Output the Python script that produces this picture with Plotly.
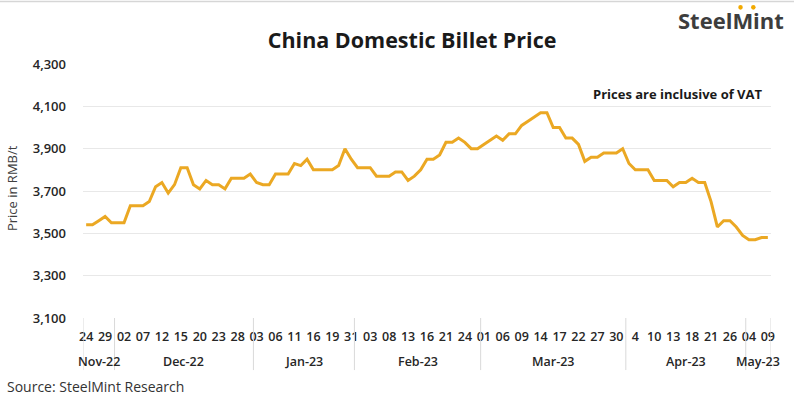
import plotly.graph_objects as go

# ---------------- data ----------------
months = ["Nov-22", "Dec-22", "Jan-23", "Feb-23", "Mar-23", "Apr-23", "May-23"]
month_days = [
    ["24", "25", "28", "29", "30"],
    ["01", "02", "05", "06", "07", "08", "09", "12", "13", "14", "15", "16", "19", "20",
     "21", "22", "23", "26", "27", "28", "29", "30"],
    ["03", "04", "05", "06", "09", "10", "11", "12", "13", "16", "17", "18", "19", "20", "30", "31"],
    ["01", "02", "03", "06", "07", "08", "09", "10", "13", "14", "15", "16", "17", "20",
     "21", "22", "23", "24", "27", "28"],
    ["01", "02", "03", "06", "07", "08", "09", "10", "13", "14", "15", "16", "17", "20",
     "21", "22", "23", "24", "27", "28", "29", "30", "31"],
    ["3", "4", "6", "7", "10", "11", "12", "13", "14", "17", "18", "19", "20", "21",
     "24", "25", "26", "27", "28"],
    ["04", "05", "08", "09"],
]
prices = [
    3540, 3540, 3560, 3580, 3550,                      # Nov
    3550, 3550, 3630, 3630, 3630, 3650, 3720, 3740, 3690, 3730, 3810,
    3810, 3730, 3710, 3750, 3730, 3730, 3710, 3760, 3760, 3760, 3780,  # Dec
    3740, 3730, 3730, 3780, 3780, 3780, 3830, 3820, 3850, 3800, 3800,
    3800, 3800, 3820, 3900, 3850,                      # Jan
    3810, 3810, 3810, 3770, 3770, 3770, 3790, 3790, 3750, 3770, 3800,
    3850, 3850, 3870, 3930, 3930, 3950, 3930, 3900, 3900,  # Feb
    3920, 3940, 3960, 3940, 3970, 3970, 4010, 4030, 4050, 4070, 4070,
    4000, 4000, 3950, 3950, 3920, 3840, 3860, 3860, 3880, 3880, 3880, 3900,  # Mar
    3830, 3800, 3800, 3800, 3750, 3750, 3750, 3720, 3740, 3740, 3760,
    3740, 3740, 3650, 3530, 3560, 3560, 3530, 3490,    # Apr
    3470, 3470, 3480, 3480,                            # May
]
y_ticks = [3100, 3300, 3500, 3700, 3900, 4100, 4300]

title_text = "China Domestic Billet Price"
note_text = "Prices are inclusive of VAT"
source_text = "Source: SteelMint Research"
y_title = "Price in RMB/t"
logo_text = "SteelMint"

# ---------------- derived ----------------
dates = [f"{m} {d}" for m, days in zip(months, month_days) for d in days]
x_idx = list(range(len(prices)))
day_labels = [d for days in month_days for d in days]
tick_step = 3
tickvals = x_idx[::tick_step]
ticktext = [day_labels[i] for i in tickvals]

counts = [len(d) for d in month_days]
bounds = [-0.5]
for c in counts:
    bounds.append(bounds[-1] + c)
centers = [(bounds[k] + bounds[k + 1]) / 2 for k in range(len(months))]

FONT = "Open Sans"
LINE_COLOR = "#EBA823"
GRID = "#e8e8e8"

fig = go.Figure()
fig.add_trace(go.Scatter(
    x=x_idx, y=prices, mode="lines",
    line=dict(color=LINE_COLOR, width=3),
    text=dates, hovertemplate="%{text}: %{y:,}<extra></extra>",
    showlegend=False,
))

shapes = []
for b in bounds:
    shapes.append(dict(type="line", xref="x", yref="paper", x0=b, x1=b, y0=0, y1=-0.205,
                       line=dict(color="#d9d9d9", width=1)))
# top border line
shapes.append(dict(type="line", xref="paper", yref="paper", x0=-0.13, x1=1.05,
                   y0=1.246, y1=1.246, line=dict(color="#d6d6d6", width=1.5)))
# logo dots
for dx in (0.9557, 0.9743):
    shapes.append(dict(type="circle", xref="paper", yref="paper",
                       x0=dx - 0.0033, x1=dx + 0.0033, y0=1.214, y1=1.232,
                       fillcolor="#F2A900", line=dict(width=0)))

annotations = []
for m, cx in zip(months, centers):
    annotations.append(dict(x=cx, xref="x", y=-0.173, yref="paper", text=m, showarrow=False,
                            font=dict(family=FONT, size=12.5, color="#262626", weight=600),
                            xanchor="center", yanchor="middle"))
annotations += [
    dict(x=0.991, xref="paper", y=0.882, yref="paper", text=note_text, showarrow=False,
         xanchor="right", yanchor="middle",
         font=dict(family=FONT, size=13, color="#1a1a1a", weight=700)),
    dict(x=-0.1134, xref="paper", y=-0.268, yref="paper", text=source_text, showarrow=False,
         xanchor="left", yanchor="middle",
         font=dict(family=FONT, size=14, color="#333333")),
    dict(x=-0.103, xref="paper", y=0.512, yref="paper", text=y_title, showarrow=False,
         textangle=-90, xanchor="center", yanchor="middle",
         font=dict(family=FONT, size=13, color="#404040")),
    dict(x=0.942, xref="paper", y=1.172, yref="paper", text=logo_text, showarrow=False,
         xanchor="center", yanchor="middle",
         font=dict(family=FONT, size=22, color="#3d3d3d", weight=700)),
]

fig.update_layout(
    width=794, height=397,
    margin=dict(l=83, r=23, t=64, b=79, autoexpand=False),
    paper_bgcolor="white", plot_bgcolor="white",
    title=dict(text=title_text, x=0.519, xref="container", xanchor="center",
               y=0.899, yref="container", yanchor="middle",
               font=dict(family=FONT, size=21.5, color="#1a1a1a", weight=700)),
    xaxis=dict(range=[-0.5, len(prices) - 0.5], tickmode="array",
               tickvals=tickvals, ticktext=ticktext, tickangle=0,
               showgrid=False, zeroline=False, showline=False, ticks="",
               ticklabelstandoff=9,
               tickfont=dict(family=FONT, size=12.5, color="#262626", weight=600)),
    yaxis=dict(range=[3100, 4300], tickvals=y_ticks, tickformat=",",
               showgrid=True, gridcolor=GRID, gridwidth=1, zeroline=False,
               showline=False, ticks="", ticklabelstandoff=16,
               tickfont=dict(family=FONT, size=13, color="#262626", weight=600)),
    shapes=shapes, annotations=annotations,
)

fig.write_html("out.html", config={"displayModeBar": False},
               post_script="document.body.style.margin='0';document.body.style.padding='0';")
